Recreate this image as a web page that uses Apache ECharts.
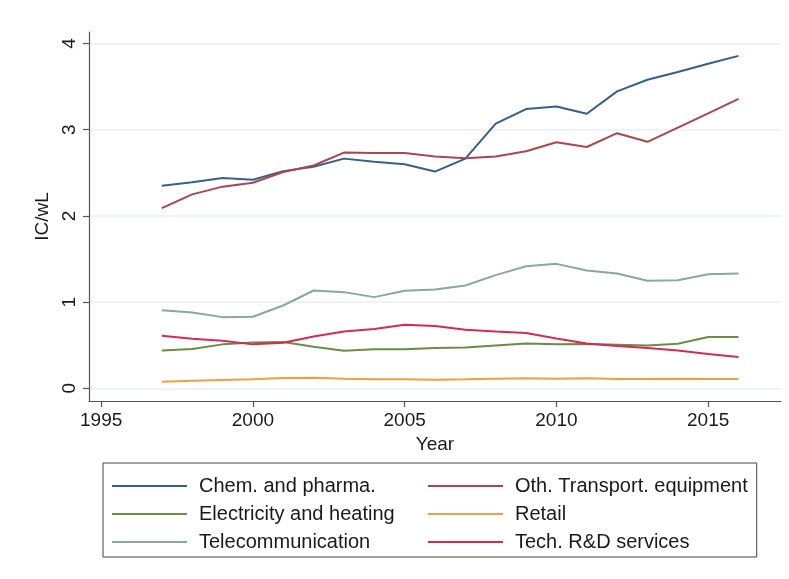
<!DOCTYPE html>
<html>
<head>
<meta charset="utf-8">
<script src="https://cdn.jsdelivr.net/npm/echarts@6/dist/echarts.min.js"></script>
<style>
html,body{margin:0;padding:0;background:#fff;}
#chart{width:789px;height:579px;}
</style>
</head>
<body>
<div id="chart"></div>
<script>
const years = [1997,1998,1999,2000,2001,2002,2003,2004,2005,2006,2007,2008,2009,2010,2011,2012,2013,2014,2015,2016];
const chemPharma = [2.35,2.39,2.44,2.42,2.52,2.57,2.665,2.63,2.60,2.515,2.665,3.07,3.24,3.27,3.185,3.445,3.58,3.67,3.765,3.857];
const othTransport = [2.09,2.25,2.34,2.385,2.51,2.585,2.735,2.73,2.73,2.69,2.67,2.69,2.75,2.855,2.80,2.96,2.86,3.025,3.19,3.358];
const electricity = [0.44,0.455,0.51,0.533,0.537,0.483,0.436,0.452,0.452,0.467,0.475,0.498,0.521,0.51,0.514,0.506,0.498,0.517,0.595,0.595];
const retail = [0.077,0.089,0.097,0.104,0.12,0.124,0.112,0.104,0.104,0.1,0.104,0.112,0.116,0.112,0.116,0.108,0.108,0.112,0.108,0.108];
const telecom = [0.907,0.88,0.826,0.83,0.961,1.135,1.116,1.058,1.131,1.147,1.193,1.313,1.417,1.444,1.367,1.332,1.247,1.255,1.324,1.332];
const techRD = [0.61,0.575,0.552,0.51,0.529,0.602,0.66,0.687,0.737,0.722,0.68,0.66,0.641,0.579,0.521,0.49,0.467,0.44,0.398,0.363];
const xTicks = [1995,2000,2005,2010,2015];
const yTicks = [0,1,2,3,4];

const seriesDefs = [
  {name:'Chem. and pharma.', data: chemPharma, color:'#365f8c'},
  {name:'Oth. Transport. equipment', data: othTransport, color:'#a9474f'},
  {name:'Electricity and heating', data: electricity, color:'#6a8c45'},
  {name:'Retail', data: retail, color:'#eea040'},
  {name:'Telecommunication', data: telecom, color:'#8aa89e'},
  {name:'Tech. R&D services', data: techRD, color:'#d42a55'}
];
const legendOrder = ['Chem. and pharma.','Electricity and heating','Telecommunication','Oth. Transport. equipment','Retail','Tech. R&D services'];

const FONT = 'Liberation Sans, Arial, sans-serif';
const chart = echarts.init(document.getElementById('chart'), null, {renderer:'canvas'});
chart.setOption({
  animation:false,
  backgroundColor:'#ffffff',
  grid:{left:89, right:8, top:32, bottom:178, containLabel:false},
  xAxis:{
    type:'value', min:1994.6, max:2017.4,
    name:'Year', nameLocation:'middle', nameGap:34,
    nameTextStyle:{fontFamily:FONT, fontSize:19, color:'#1a1a1a'},
    axisLine:{show:true, onZero:false, lineStyle:{color:'#555', width:1.2}},
    axisTick:{show:true, length:6, customValues:xTicks, lineStyle:{color:'#555', width:1.2}},
    axisLabel:{customValues:xTicks, formatter:v=>String(v), fontFamily:FONT, fontSize:19, color:'#1a1a1a', margin:10},
    splitLine:{show:false}
  },
  yAxis:{
    type:'value', min:-0.147, max:4.134,
    name:'IC/wL', nameLocation:'middle', nameRotate:90, nameGap:34,
    nameTextStyle:{fontFamily:FONT, fontSize:19, color:'#1a1a1a'},
    axisLine:{show:true, onZero:false, lineStyle:{color:'#555', width:1.2}},
    axisTick:{show:true, length:6, customValues:yTicks, lineStyle:{color:'#555', width:1.2}},
    axisLabel:{customValues:yTicks, rotate:90, fontFamily:FONT, fontSize:19, color:'#1a1a1a', margin:10},
    splitLine:{show:true, lineStyle:{color:'#e8f0f3', width:1.5}}
  },
  legend:{
    orient:'vertical', left:103, top:463, height:84,
    data: legendOrder,
    icon:'rect', itemWidth:75, itemHeight:2, itemGap:0,
    borderColor:'#444', borderWidth:1, padding:[9,9,1,9],
    textStyle:{fontFamily:FONT, fontSize:20, color:'#1a1a1a', width:229, lineHeight:28, padding:[0,0,0,7]}
  },
  series: seriesDefs.map(s => ({
    name:s.name, type:'line', symbol:'none', color:s.color,
    lineStyle:{color:s.color, width:2},
    data: years.map((y,i)=>[y, s.data[i]])
  }))
});
</script>
</body>
</html>
